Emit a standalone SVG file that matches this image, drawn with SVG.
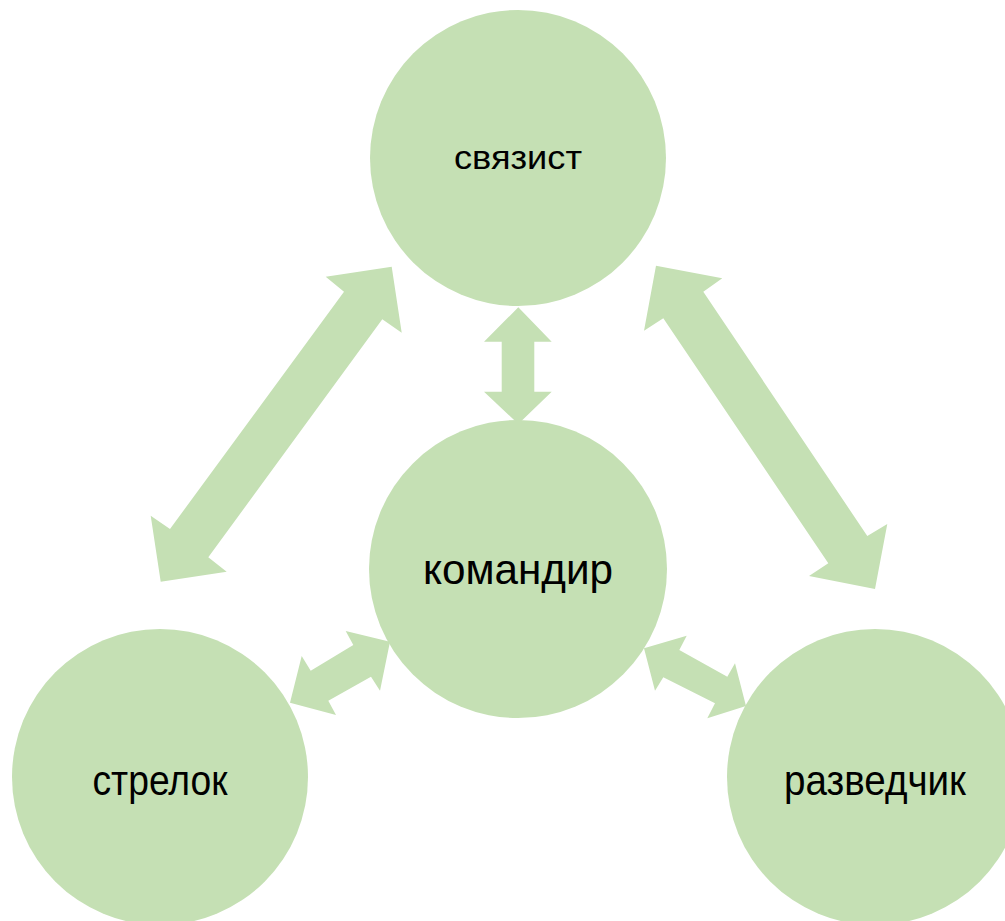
<svg xmlns="http://www.w3.org/2000/svg" width="1005" height="921" viewBox="0 0 1005 921">
<style>
.n{fill:#C5E0B4}
.a{fill:#C5E0B4}
.t{font-family:"Liberation Sans",Arial,sans-serif;fill:#000;text-anchor:middle}
</style>
<rect width="1005" height="921" fill="#fff"/>
<g id="connectors">
<polygon class="a" points="391.7,266.7 401.7,332.7 382.3,319.3 208.3,557.3 226.7,571.7 160.7,581.7 150.7,515.7 170,529 344,291.7 325.7,276.7"/>
<polygon class="a" points="656,265.7 722.3,278.3 703.3,291.7 867.3,536 887.3,524 875,589 809,576 828.3,563.3 663.3,318.3 644,330.7"/>
<polygon class="a" points="518.3,307.3 551.7,341.7 534.3,341.7 534.3,391.7 551.7,391.7 518.3,424 484,391.7 501.7,391.7 501.7,341.7 484,341.7"/>
<polygon class="a" points="390,641.7 380,690.7 371,676.7 328.3,700.7 336,715 290,702.7 301.7,656 310.7,670.7 353.3,645 345.7,631"/>
<polygon class="a" points="644,648.3 686.7,635.7 679.3,650 727.3,676.7 735,663.3 746,706 707.3,718.3 715,703.3 663.3,677.3 655,690.7"/>
</g>
<g id="node-svyazist"><circle class="n" cx="518" cy="158" r="148"/><text class="t" x="518" y="169" font-size="34" textLength="128" lengthAdjust="spacingAndGlyphs">связист</text></g>
<g id="node-komandir"><circle class="n" cx="518" cy="569" r="149"/><text class="t" x="518" y="584" font-size="43" textLength="190" lengthAdjust="spacingAndGlyphs">командир</text></g>
<g id="node-strelok"><circle class="n" cx="160" cy="777" r="148"/><text class="t" x="160" y="795" font-size="43" textLength="135" lengthAdjust="spacingAndGlyphs">стрелок</text></g>
<g id="node-razvedchik"><circle class="n" cx="875" cy="777" r="148"/><text class="t" x="875" y="795" font-size="43" textLength="182" lengthAdjust="spacingAndGlyphs">разведчик</text></g>
</svg>
